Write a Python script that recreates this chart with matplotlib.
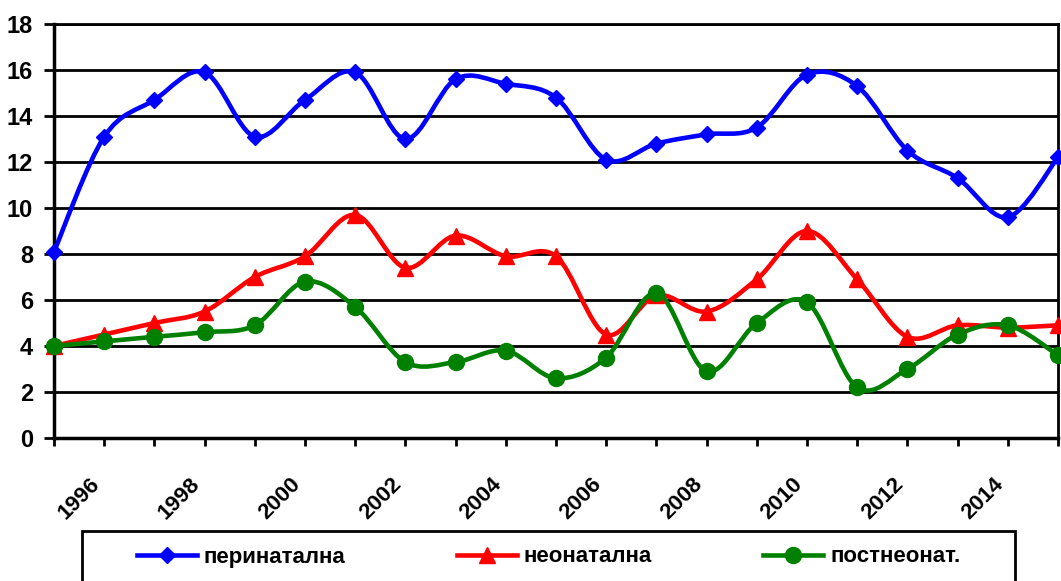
import matplotlib
matplotlib.use('Agg')
import matplotlib.pyplot as plt
import numpy as np
from matplotlib.path import Path
from matplotlib.patches import PathPatch, Rectangle
from matplotlib.lines import Line2D

plt.rcParams['font.family'] = ['Liberation Sans', 'DejaVu Sans']
plt.rcParams['font.weight'] = 'bold'

years = list(range(1995, 2016))
perinatal = [8.1, 13.1, 14.7, 15.9, 13.1, 14.7, 15.9, 13.0, 15.6, 15.4, 14.8,
             12.1, 12.8, 13.2, 13.5, 15.8, 15.3, 12.5, 11.3, 9.6, 12.2]
neonatal = [4.0, 4.5, 5.0, 5.5, 7.0, 7.9, 9.7, 7.4, 8.8, 7.9, 7.9,
            4.5, 6.2, 5.5, 6.9, 9.0, 6.9, 4.4, 4.9, 4.8, 4.9]
postneonatal = [4.0, 4.2, 4.4, 4.6, 4.9, 6.8, 5.7, 3.3, 3.3, 3.8, 2.6,
                3.5, 6.3, 2.9, 5.0, 5.9, 2.2, 3.0, 4.5, 4.9, 3.6]
labels = ['перинатална', 'неонатална', 'постнеонат.']
colors = ['#0000FF', '#FF0000', '#008000']
markers = [('D', 8), ('^', 12), ('o', 11.5)]


def smooth_path(x, y):
    # excel-like smoothed line: cubic bezier segments through the points
    x = np.asarray(x, float)
    y = np.asarray(y, float)
    px = np.concatenate([[x[0]], x, [x[-1]]])
    py = np.concatenate([[y[0]], y, [y[-1]]])
    verts = [(x[0], y[0])]
    codes = [Path.MOVETO]
    for i in range(len(x) - 1):
        c1 = (px[i + 1] + (px[i + 2] - px[i]) / 6, py[i + 1] + (py[i + 2] - py[i]) / 6)
        c2 = (px[i + 2] - (px[i + 3] - px[i + 1]) / 6, py[i + 2] - (py[i + 3] - py[i + 1]) / 6)
        verts += [c1, c2, (x[i + 1], y[i + 1])]
        codes += [Path.CURVE4] * 3
    return Path(verts, codes)


fig = plt.figure(figsize=(10.61, 5.81), dpi=100)
ax = fig.add_axes([54 / 1061, 1 - 438 / 581, 1004 / 1061, 414 / 581])

handles = []
for ser, col, (m, ms), lab in zip([perinatal, neonatal, postneonatal], colors, markers, labels):
    patch = PathPatch(smooth_path(years, ser), facecolor='none', edgecolor=col,
                      lw=3.3, clip_on=False, zorder=3, capstyle='round', joinstyle='round')
    ax.add_patch(patch)
    ax.plot(years, ser, linestyle='none', marker=m, ms=ms, color=col, mec=col,
            clip_on=False, zorder=4)
    handles.append(Line2D([], [], color=col, lw=3.3, marker=m, ms=ms, mec=col, label=lab))

ax.set_xlim(1995, 2015)
ax.set_ylim(0, 18)
ax.set_yticks(range(0, 19, 2))
ax.set_xticks(years)
ax.set_xticklabels([str(y) if y % 2 == 0 else '' for y in years],
                   rotation=45, ha='right', rotation_mode='default')
ax.grid(axis='y', color='black', lw=2)
ax.set_axisbelow(True)
for s in ['left', 'bottom']:
    ax.spines[s].set_linewidth(2.5)
for s in ['top', 'right']:
    ax.spines[s].set_linewidth(2)
ax.tick_params(axis='y', length=7, width=2, pad=8, labelsize=17)
ax.tick_params(axis='x', length=6, width=2, pad=20, labelsize=16)

leg = fig.legend(handles=handles, loc='center', ncol=3, frameon=False,
                 bbox_to_anchor=((82 + 1015) / 2 / 1061, 1 - 557 / 581),
                 prop={'size': 16, 'weight': 'bold'}, handlelength=2.7,
                 handletextpad=0.32, columnspacing=5.0)
fig.add_artist(Rectangle((82 / 1061, -0.05), 933 / 1061, 0.05 + 1 - 531 / 581,
                         transform=fig.transFigure, fill=False, ec='black', lw=2))

fig.savefig('out.png', dpi=100)
